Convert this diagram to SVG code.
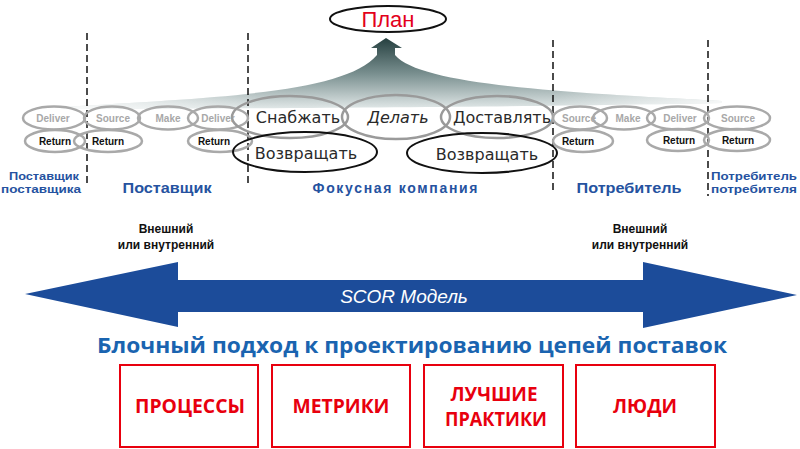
<svg xmlns="http://www.w3.org/2000/svg" width="800" height="449" viewBox="0 0 800 449">
<defs>
<linearGradient id="sw" gradientUnits="userSpaceOnUse" x1="0" y1="40" x2="0" y2="108">
<stop offset="0" stop-color="#2a4444"/>
<stop offset="0.5" stop-color="#7a9090"/>
<stop offset="1" stop-color="#dfe6e6"/>
</linearGradient>
<linearGradient id="swh" gradientUnits="userSpaceOnUse" x1="60" y1="0" x2="720" y2="0">
<stop offset="0" stop-color="#fff" stop-opacity="0.85"/>
<stop offset="0.3" stop-color="#fff" stop-opacity="0"/>
<stop offset="0.75" stop-color="#fff" stop-opacity="0"/>
<stop offset="1" stop-color="#fff" stop-opacity="0.8"/>
</linearGradient>
<style>
.dash{stroke:#111;stroke-width:1.5;stroke-dasharray:7,4;fill:none}
.so{fill:none;stroke:#a9a9a9;stroke-width:2.5}
.bo{fill:none;stroke:#9a9a9a;stroke-width:2.5}
.ko{fill:none;stroke:#111;stroke-width:2}
.gt{font-family:"Liberation Sans",Arial,sans-serif;font-weight:bold;font-size:10px;fill:#a8a8a8;text-anchor:middle}
.rt{font-family:"Liberation Sans",Arial,sans-serif;font-weight:bold;font-size:10px;fill:#111;text-anchor:middle}
.big{font-family:"DejaVu Sans","Liberation Sans",sans-serif;font-size:16px;fill:#2a2a2a;text-anchor:middle}
.lab{font-family:"Liberation Sans",Arial,sans-serif;font-weight:bold;fill:#2552a0;text-anchor:middle}
.ext{font-family:"Liberation Sans",Arial,sans-serif;font-weight:bold;font-size:12px;fill:#111;text-anchor:middle}
.box{fill:#fff;stroke:#e8000e;stroke-width:2}
.bt{font-family:"Open Sans","Liberation Sans",sans-serif;font-weight:bold;font-size:20px;fill:#e8000e;text-anchor:middle}
</style>
</defs>

<g id="swoosh">
<path d="M60,107 C230,97 345,92 377,55 L377,48 L371,48 L386,38 L402,48 L395,48 L395,55 C420,85 560,92 722,101 L722,103 C560,106 420,108 60,109 Z" fill="url(#sw)"/>
<path d="M60,107 C230,97 345,92 377,55 L377,48 L371,48 L386,38 L402,48 L395,48 L395,55 C420,85 560,92 722,101 L722,103 C560,106 420,108 60,109 Z" fill="url(#swh)"/>
</g>

<g id="dividers">
<line class="dash" x1="87" y1="33" x2="87" y2="186"/>
<line class="dash" x1="248" y1="33" x2="248" y2="186"/>
<line class="dash" x1="553" y1="40" x2="553" y2="190"/>
<line class="dash" x1="708" y1="40" x2="708" y2="196"/>
</g>

<g id="plan">
<ellipse cx="388" cy="19" rx="58" ry="13" fill="#fff" stroke="#111" stroke-width="2"/>
<text x="388" y="27" font-family="Liberation Sans,Arial,sans-serif" font-size="22" fill="#e3001b" text-anchor="middle">План</text>
</g>

<g id="supplier-supplier">
<ellipse class="so" cx="54" cy="118" rx="31" ry="11.5"/>
<text class="gt" x="53" y="122">Deliver</text>
<ellipse class="so" cx="55" cy="141" rx="30" ry="11"/>
<text class="rt" x="55" y="145">Return</text>
</g>

<g id="supplier">
<ellipse class="so" cx="112" cy="118" rx="28" ry="11.5"/>
<text class="gt" x="113" y="122">Source</text>
<ellipse class="so" cx="168" cy="118" rx="30" ry="11.5"/>
<text class="gt" x="168" y="122">Make</text>
<ellipse class="so" cx="218" cy="118" rx="30" ry="11.5"/>
<text class="gt" x="218" y="122">Deliver</text>
<ellipse class="so" cx="108" cy="141" rx="34" ry="11"/>
<text class="rt" x="108" y="145">Return</text>
<ellipse class="so" cx="220" cy="141" rx="32" ry="11"/>
<text class="rt" x="214" y="145">Return</text>
</g>

<g id="focus">
<ellipse class="bo" cx="290" cy="117" rx="58" ry="21"/>
<text class="big" x="298" y="123">Снабжать</text>
<ellipse class="bo" cx="396" cy="117" rx="54" ry="22"/>
<text class="big" x="398" y="123" font-style="italic">Делать</text>
<ellipse class="bo" cx="497" cy="117" rx="56" ry="21"/>
<text class="big" x="502" y="123">Доставлять</text>
<ellipse class="ko" cx="305" cy="152" rx="72" ry="20"/>
<text class="big" x="306" y="159" font-size="17">Возвращать</text>
<ellipse class="ko" cx="482" cy="153" rx="75" ry="20"/>
<text class="big" x="487" y="160" font-size="17">Возвращать</text>
</g>

<g id="customer">
<ellipse class="so" cx="580" cy="118" rx="27" ry="11.5"/>
<text class="gt" x="579" y="122">Source</text>
<ellipse class="so" cx="624" cy="118" rx="31" ry="11.5"/>
<text class="gt" x="628" y="122">Make</text>
<ellipse class="so" cx="678" cy="118" rx="31" ry="11.5"/>
<text class="gt" x="680" y="122">Deliver</text>
<ellipse class="so" cx="583" cy="141" rx="30" ry="11"/>
<text class="rt" x="578" y="145">Return</text>
<ellipse class="so" cx="678" cy="140" rx="31" ry="11"/>
<text class="rt" x="679" y="144">Return</text>
</g>

<g id="customer-customer">
<ellipse class="so" cx="737" cy="118" rx="33" ry="11.5"/>
<text class="gt" x="738" y="122">Source</text>
<ellipse class="so" cx="737" cy="140" rx="33" ry="11"/>
<text class="rt" x="738" y="144">Return</text>
</g>

<g id="labels">
<text class="lab" x="44" y="180" font-size="11.5" textLength="70" lengthAdjust="spacingAndGlyphs">Поставщик</text>
<text class="lab" x="41" y="193" font-size="11.5" textLength="80" lengthAdjust="spacingAndGlyphs">поставщика</text>
<text class="lab" x="167" y="193" font-size="14.5" textLength="89" lengthAdjust="spacingAndGlyphs">Поставщик</text>
<text class="lab" x="395" y="193" font-size="14" textLength="165">Фокусная  компания</text>
<text class="lab" x="629" y="193" font-size="15" textLength="105" lengthAdjust="spacingAndGlyphs">Потребитель</text>
<text class="lab" x="754" y="180" font-size="11.5" textLength="86" lengthAdjust="spacingAndGlyphs">Потребитель</text>
<text class="lab" x="754" y="193" font-size="11.5" textLength="86" lengthAdjust="spacingAndGlyphs">потребителя</text>
<text class="ext" x="166" y="233">Внешний</text>
<text class="ext" x="166" y="249">или внутренний</text>
<text class="ext" x="640" y="233">Внешний</text>
<text class="ext" x="640" y="249">или внутренний</text>
</g>

<g id="scor-arrow">
<path d="M25,294 L178,262 L178,280 L643,280 L643,262 L797,295 L643,328 L643,312 L178,312 L178,327 Z" fill="#1c4c9a"/>
<text x="404" y="303" font-family="Liberation Sans,Arial,sans-serif" font-style="italic" font-size="19" fill="#fff" text-anchor="middle">SCOR Модель</text>
</g>

<g id="title">
<text x="412" y="353" font-family="Open Sans,Liberation Sans,sans-serif" font-weight="bold" font-size="21" fill="#1a64b0" text-anchor="middle" textLength="630" lengthAdjust="spacingAndGlyphs">Блочный подход к проектированию цепей поставок</text>
</g>

<g id="box-processes">
<rect class="box" x="120" y="365" width="138" height="82"/>
<text class="bt" x="190" y="413" textLength="110" lengthAdjust="spacingAndGlyphs">ПРОЦЕССЫ</text>
</g>
<g id="box-metrics">
<rect class="box" x="272" y="365" width="138" height="82"/>
<text class="bt" x="341" y="413" textLength="97" lengthAdjust="spacingAndGlyphs">МЕТРИКИ</text>
</g>
<g id="box-practices">
<rect class="box" x="424" y="365" width="139" height="82"/>
<text class="bt" x="494" y="401" font-size="19" textLength="87" lengthAdjust="spacingAndGlyphs">ЛУЧШИЕ</text>
<text class="bt" x="496" y="426" font-size="19" textLength="102" lengthAdjust="spacingAndGlyphs">ПРАКТИКИ</text>
</g>
<g id="box-people">
<rect class="box" x="576" y="365" width="139" height="82"/>
<text class="bt" x="645" y="413" textLength="64" lengthAdjust="spacingAndGlyphs">ЛЮДИ</text>
</g>
</svg>
